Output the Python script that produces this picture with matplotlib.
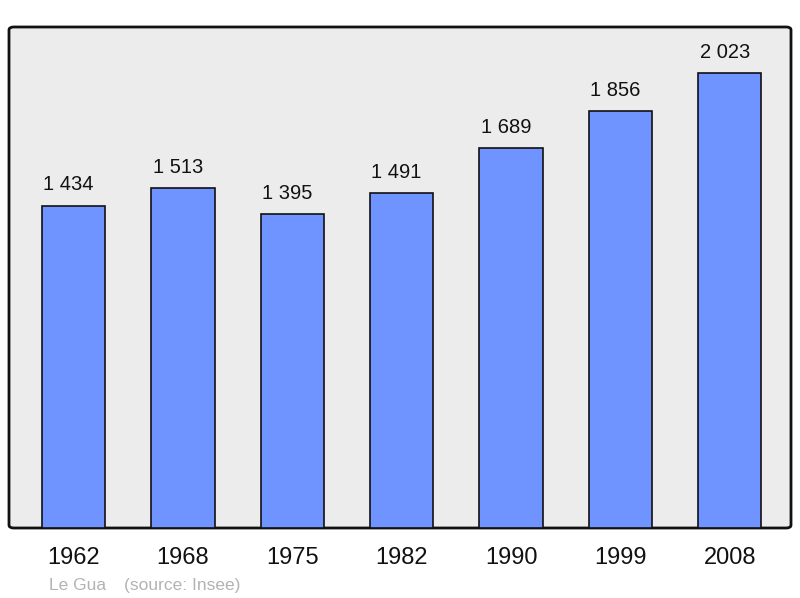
import matplotlib
matplotlib.use("Agg")
import matplotlib.pyplot as plt
from matplotlib.patches import FancyBboxPatch

years = ["1962", "1968", "1975", "1982", "1990", "1999", "2008"]
population = [1434, 1513, 1395, 1491, 1689, 1856, 2023]
labels = ["1 434", "1 513", "1 395", "1 491", "1 689", "1 856", "2 023"]

plt.rcParams['font.family'] = ['Liberation Sans', 'DejaVu Sans']

W, H = 800, 598
fig = plt.figure(figsize=(W/100, H/100), dpi=100)
ax = fig.add_axes([9/W, (H-528)/H, 782/W, 501/H])
ax.set_facecolor('none')
for s in ax.spines.values():
    s.set_visible(False)

# rounded frame background
frame = FancyBboxPatch((0, 0), 1, 1,
                       boxstyle="round,pad=0,rounding_size=0.006",
                       transform=ax.transAxes, facecolor='#ececec',
                       edgecolor='#111111', linewidth=2, zorder=0, clip_on=False)
ax.add_patch(frame)

x = list(range(len(years)))
bars = ax.bar(x, population, width=0.578, color='#7094ff',
              edgecolor='#111111', linewidth=1.2, zorder=2)
for xi, v, lab in zip(x, population, labels):
    ax.annotate(lab, (xi, v), xytext=(-3.6, 15), textcoords='offset points',
                ha='center', va='center', fontsize=14.5, color='#111111')

ax.set_xlim(-0.59, 6.56)
ax.set_ylim(0, 2229)
ax.set_yticks([])
ax.set_xticks(x)
ax.set_xticklabels(years, fontsize=17, color='#111111')
ax.tick_params(axis='x', length=0, pad=14)

fig.text(49/W, 1-585.5/H, "Le Gua", fontsize=12.5, color='#b3b3b3', va='center', ha='left')
fig.text(124/W, 1-585.5/H, "(source: Insee)", fontsize=12.5, color='#b3b3b3', va='center', ha='left')

fig.savefig("out.png", dpi=100, facecolor='white')
